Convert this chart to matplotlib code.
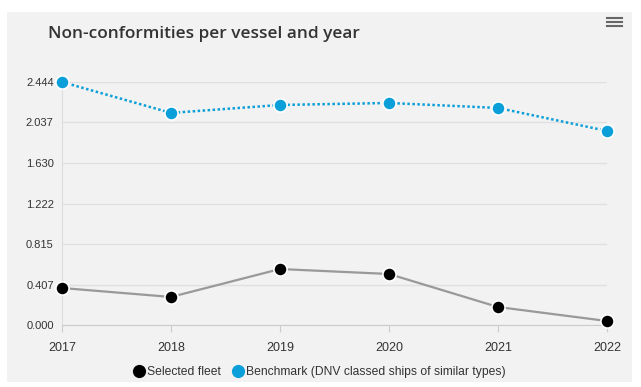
import matplotlib
matplotlib.use("Agg")
import matplotlib.pyplot as plt
from matplotlib.patches import Rectangle
from matplotlib.lines import Line2D

years = [2017, 2018, 2019, 2020, 2021, 2022]
selected_fleet = [0.372, 0.282, 0.563, 0.513, 0.181, 0.040]
benchmark = [2.444, 2.133, 2.213, 2.233, 2.183, 1.952]
y_ticks = [0.0, 0.407, 0.815, 1.222, 1.630, 2.037, 2.444]
y_labels = ["0.000", "0.407", "0.815", "1.222", "1.630", "2.037", "2.444"]

BLUE = "#0a9fd8"
TXT = "#333333"
W, H = 641, 387

plt.rcParams['font.family'] = ['Liberation Sans', 'DejaVu Sans']
fig = plt.figure(figsize=(W / 100, H / 100), dpi=100)
fig.patch.set_facecolor("white")

# grey card behind the chart
fig.add_artist(Rectangle((7 / W, 5 / H), 625 / W, 370 / H, transform=fig.transFigure,
                         facecolor="#f2f2f2", edgecolor="none", zorder=0))

ax = fig.add_axes([62 / W, (H - 325) / H, 545 / W, 243 / H])
ax.set_facecolor("none")
ax.set_xlim(2017, 2022)
ax.set_ylim(0, 2.444)

ax.plot(years, selected_fleet, color="#999999", lw=1.6, marker="o", ms=9.5,
        mfc="black", mec="white", mew=1.2, clip_on=False, zorder=3, label="Selected fleet")
ax.plot(years, benchmark, color=BLUE, lw=1.8, ls=(0, (1, 1)), marker="o", ms=9.5,
        mfc=BLUE, mec="white", mew=1.2, clip_on=False, zorder=3,
        label="Benchmark (DNV classed ships of similar types)")

ax.set_yticks(y_ticks)
ax.set_yticklabels(y_labels)
ax.set_xticks(years)
ax.set_xticklabels([str(y) for y in years])
ax.grid(axis="y", color="#e0e0e0", lw=1)
ax.set_axisbelow(True)
for s in ["top", "right"]:
    ax.spines[s].set_visible(False)
ax.spines["left"].set_color("#dddddd")
ax.spines["bottom"].set_color("#cccccc")
ax.tick_params(axis="y", length=0, pad=6, labelsize=8, labelcolor=TXT)
ax.tick_params(axis="x", length=5, color="#cccccc", pad=7, labelsize=9, labelcolor=TXT)

fig.text(48 / W, 1 - 34 / H, "Non-conformities per vessel and year", fontsize=12.4,
         fontweight="semibold", color=TXT, va="center", family=["Open Sans", "DejaVu Sans"])

# menu icon
for yy in (18, 22, 26):
    fig.add_artist(Line2D([607 / W, 622 / W], [1 - yy / H, 1 - yy / H],
                          transform=fig.transFigure, color="#666666", lw=1.5))

leg = fig.legend(loc="center", bbox_to_anchor=(320 / W, 1 - 372 / H), ncol=2,
                 frameon=False, fontsize=8.7, handlelength=0.8, handletextpad=0.3,
                 columnspacing=1.0, labelcolor=TXT)
for h in leg.legend_handles:
    h.set_linestyle("none")
    h.set_markeredgecolor("none")

fig.savefig("out.png", dpi=100, facecolor="white")
